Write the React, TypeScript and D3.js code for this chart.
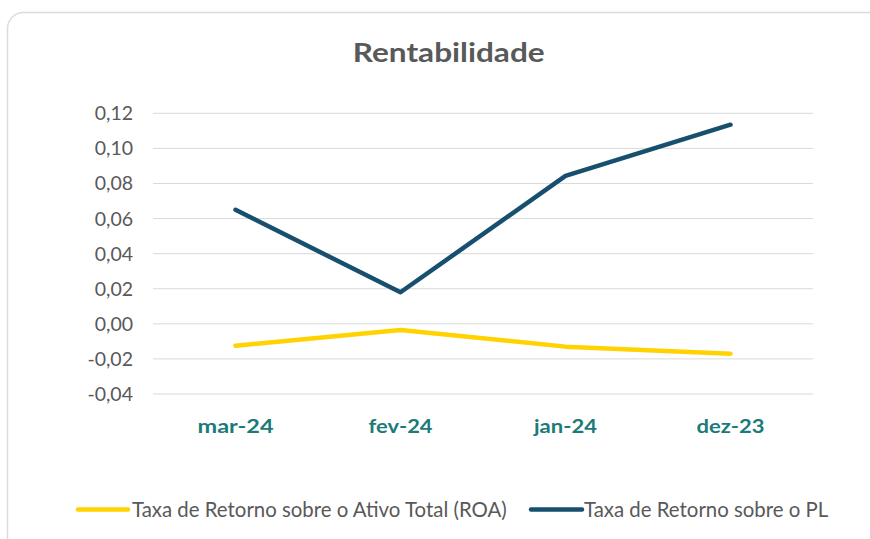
import React from "react";
import * as d3 from "d3";

const categories = ["mar-24", "fev-24", "jan-24", "dez-23"];
const roaValues = [-0.0125, -0.0035, -0.013, -0.017];
const plValues = [0.065, 0.018, 0.0843, 0.1135];
const yTicks = [-0.04, -0.02, 0, 0.02, 0.04, 0.06, 0.08, 0.1, 0.12];
const seriesNames = ["Taxa de Retorno sobre o Ativo Total (ROA)", "Taxa de Retorno sobre o PL"];

const W = 870, H = 539;
const left = 153, right = 813, top = 113.3, bottom = 394;
const FONT = "Lato, 'Open Sans', sans-serif";
const xLabelWidths = [76, 64, 63, 68];

export default function App() {
  const x = d3.scaleBand<string>().domain(categories).range([left, right]);
  const y = d3.scaleLinear().domain([-0.04, 0.12]).range([bottom, top]);
  const cx = (c: string) => (x(c) ?? 0) + x.bandwidth() / 2;
  const line = d3.line<number>().x((_, i) => cx(categories[i])).y((d) => y(d));
  const fmt = (v: number) => d3.format(".2f")(v).replace(".", ",").replace("−", "-");
  const colors = ["#FFD200", "#174F6E"];
  return (
    <svg width={W} height={H} style={{ position: "absolute", left: 0, top: 0 }} fontFamily={FONT}>
      <rect x={0} y={0} width={W} height={H} fill="#fff" />
      <rect x={7.5} y={12.5} width={900} height={600} rx={16} fill="#fff" stroke="#dcdcdc" strokeWidth={1.5} />
      <text x={352.7} y={62} fontSize={27} fontWeight="bold" fill="#595959" textLength={192} lengthAdjust="spacingAndGlyphs">Rentabilidade</text>
      {yTicks.map((t) => (
        <g key={t}>
          <line x1={left} x2={right} y1={y(t)} y2={y(t)} stroke="#d9d9d9" strokeWidth={1} />
          <text x={133} y={y(t)} dy="0.36em" textAnchor="end" fontSize={19.5} fill="#595959">{fmt(t)}</text>
        </g>
      ))}
      {categories.map((c, i) => (
        <text key={c} x={cx(c) - xLabelWidths[i] / 2} y={433} fontSize={19.5} fontWeight="bold" fill="#1C7A78" textLength={xLabelWidths[i]} lengthAdjust="spacingAndGlyphs">{c}</text>
      ))}
      <path d={line(roaValues) ?? ""} fill="none" stroke={colors[0]} strokeWidth={4.5} strokeLinecap="round" strokeLinejoin="round" />
      <path d={line(plValues) ?? ""} fill="none" stroke={colors[1]} strokeWidth={4.5} strokeLinecap="round" strokeLinejoin="round" />
      <line x1={78} x2={128} y1={509.5} y2={509.5} stroke={colors[0]} strokeWidth={4.5} strokeLinecap="round" />
      <text x={132} y={517} fontSize={20.4} fill="#595959">{seriesNames[0]}</text>
      <line x1={531} x2={582} y1={509.5} y2={509.5} stroke={colors[1]} strokeWidth={4.5} strokeLinecap="round" />
      <text x={584} y={517} fontSize={20.4} fill="#595959">{seriesNames[1]}</text>
    </svg>
  );
}
